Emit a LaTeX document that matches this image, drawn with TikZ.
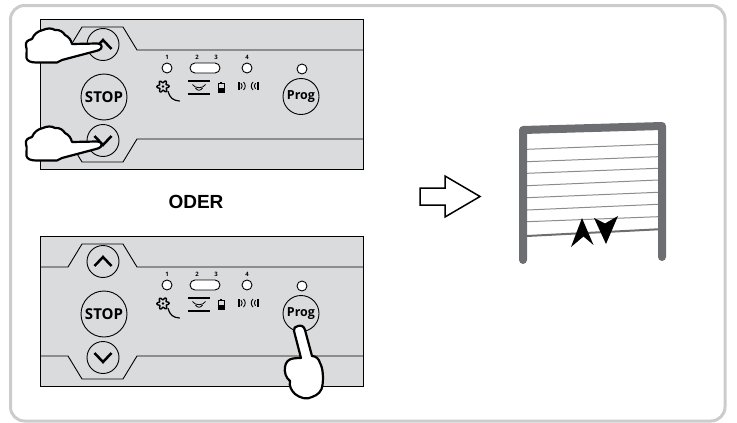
\documentclass[tikz,border=0pt]{standalone}
\usepackage{fontspec}
\setmainfont{Liberation Sans}
\newfontfamily\btnfont{Open Sans}
\definecolor{panelgrey}{RGB}{218,219,220}
\definecolor{framegrey}{RGB}{204,204,204}
\definecolor{doorgrey}{RGB}{109,110,113}
\definecolor{slatgrey}{RGB}{140,140,142}
\begin{document}
\begin{tikzpicture}[x=1pt,y=-1pt,
  panelbox/.style={fill=panelgrey, draw=black, line width=0.9pt},
  panelline/.style={draw=black, line width=0.9pt, line join=round},
  btn/.style={circle, draw=black, line width=0.9pt, inner sep=0pt},
  led/.style={circle, draw=black, fill=white, line width=0.9pt, minimum size=10pt, inner sep=0pt},
  chev/.style={draw=black, line width=2.5pt, line join=miter, line cap=butt},
  ledlabel/.style={font=\btnfont\bfseries\fontsize{6}{6}\selectfont, inner sep=0pt},
  handline/.style={draw=black, fill=white, line width=2.2pt, line join=round, line cap=round},
  ctrlpanel/.pic={
    \draw[panelbox] (0,0) rectangle (323,150);
    \draw[panelline] (0,31) -- (28,31) -- (42,8) -- (83,8) -- (97,31) -- (323,31);
    \draw[panelline] (0,120) -- (28,120) -- (42,143) -- (83,143) -- (97,120) -- (323,120);
    % arrow buttons and stop
    \node[btn, minimum size=32pt] (-up) at (63,25.5) {};
    \draw[chev] (54.5,30) -- (63,21) -- (71.5,30);
    \node[btn, minimum size=46pt, font=\btnfont\bfseries\fontsize{15}{15}\selectfont] (-stop) at (64,78) {STOP};
    \node[btn, minimum size=32pt] (-down) at (63,121.5) {};
    \draw[chev] (54.5,117) -- (63,126) -- (71.5,117);
    % status lights
    \node[led] (-led1) at (127,49) {};
    \node[draw=black, fill=white, line width=0.9pt, rounded corners=5pt, minimum width=30pt, minimum height=10pt, inner sep=0pt] (-led23) at (165,49) {};
    \node[led] (-led4) at (207,49) {};
    \node[led] (-ledp) at (262,50) {};
    \node[ledlabel] (-l1) at (127,38) {1};
    \node[ledlabel] (-l2) at (157,38) {2};
    \node[ledlabel] (-l3) at (176,38) {3};
    \node[ledlabel] (-l4) at (207,38) {4};
    % icon 1: flower lens with handle
    \draw[line width=1.4pt, line join=round] plot[domain=0:360, samples=121, smooth]
      ({123+(4.9+1.2*cos(6*\x+15))*cos(\x)}, {67.5+(4.9+1.2*cos(6*\x+15))*sin(\x)}) -- cycle;
    \fill (123,67.5) circle (1.3);
    \draw[line width=1.2pt, line cap=round] (128,72.5) .. controls (130,79) and (133,81.5) .. (139.5,82);
    % icon 2: sensor waves between bars
    \fill (148,60.5) rectangle (170,63.2);
    \fill (148,74.3) rectangle (170,75.8);
    \draw[line width=0.8pt] (152.5,65.5) .. controls (155,69.8) and (163,69.8) .. (165.5,65.5);
    \draw[line width=0.8pt] (155.5,69) .. controls (157.5,72) and (160.5,72) .. (162.5,69);
    % battery
    \draw[line width=0.8pt] (178.5,64.5) rectangle (184,73.5);
    \fill (178.5,69) rectangle (184,73.5);
    \fill (180.2,63) rectangle (182.3,64.5);
    % icon 4: transmit / receive
    \fill (197.5,63) rectangle (199.5,71);
    \draw[line width=0.9pt] (201,64.2) .. controls (202.6,66) and (202.6,68) .. (201,69.8);
    \draw[line width=0.9pt] (203.5,63) .. controls (205.8,65.5) and (205.8,68.5) .. (203.5,71);
    \fill (217,63) rectangle (219,71);
    \draw[line width=0.9pt] (215.5,64.2) .. controls (213.9,66) and (213.9,68) .. (215.5,69.8);
    \draw[line width=0.9pt] (213,63) .. controls (210.7,65.5) and (210.7,68.5) .. (213,71);
    % programming button
    \node[btn, minimum size=36pt, font=\btnfont\bfseries\fontsize{12.5}{12.5}\selectfont] (-prog) at (261,77.5) {Prog};
  }
]
\useasboundingbox (0,0) rectangle (737,423);
% outer frame
\draw[draw=framegrey, line width=3pt, rounded corners=14pt] (10.5,5.5) rectangle (725,421);

% two control panels
\pic (p1) at (40,19) {ctrlpanel};
\pic (p2) at (40,236) {ctrlpanel};

% hands pressing the up and down buttons together
\foreach \dy in {0,98}{
\begin{scope}[yshift=-\dy pt]
\draw[handline] (72,44)
  -- (97,43.5) .. controls (101,43.5) and (102.5,46) .. (101,48.5)
  .. controls (100,50) and (98,50.5) .. (96,51)
  -- (62,60)
  .. controls (60,61) and (59,62) .. (57,62.5)
  -- (36,62.5) .. controls (31,62.5) and (27,61) .. (26.5,58)
  .. controls (26,54) and (27.5,50) .. (26,46)
  .. controls (25,42) and (28,40) .. (32,39)
  .. controls (34,34) and (38,31) .. (43,30)
  .. controls (47,28) and (52,28) .. (55,30)
  .. controls (60,29.5) and (63,32) .. (65,35)
  .. controls (69,37) and (71,40) .. (72,44) -- cycle;
\end{scope}
}

% hand pressing the Prog button
\draw[handline] (298,326) .. controls (301,325) and (304,326) .. (305,330)
  -- (312,356)
  .. controls (316,356) and (319,359) .. (320,363)
  .. controls (323,368) and (323.5,378) .. (322.5,385)
  .. controls (322,391) and (318,395) .. (312,397)
  .. controls (307,400) and (300,398) .. (295,394)
  .. controls (291,390) and (289,386) .. (290,381)
  .. controls (286,378) and (284,372) .. (285,367)
  .. controls (285.5,362) and (289,359) .. (293,358.5)
  .. controls (296,358) and (299,358) .. (301,358)
  -- (294,331) .. controls (293.5,328) and (295,326.5) .. (298,326) -- cycle;

% "or"
\node[font=\bfseries\fontsize{19}{19}\selectfont, anchor=base, inner sep=0pt] (oder) at (196,208.3) {ODER};

% hollow arrow
\draw[line width=1.5pt, fill=white, line join=miter] (420,188) -- (445,188) -- (445,176) -- (480,196.5)
  -- (445,217) -- (445,205) -- (420,205) -- cycle;

% garage door
\foreach \ya/\yb in {149.3/144.3,161.7/156.7,173.3/168.3,185.7/180,197.7/192.3,210/204.3,221.7/216.7}{
  \draw[slatgrey, line width=1pt] (527,\ya) -- (658,\yb);
}
\draw[doorgrey, line width=2pt] (527,236) -- (658,229.3);
\draw[doorgrey, line width=8pt, line cap=round, line join=round]
  (523,260) -- (523,130) -- (662,126) -- (662,257);
\fill (582,218) -- (593.5,245) -- (583.5,236.5) -- (571,247) -- cycle;
\fill (594,218) -- (605,223.5) -- (618,216) -- (606,244) -- cycle;
\end{tikzpicture}
\end{document}
